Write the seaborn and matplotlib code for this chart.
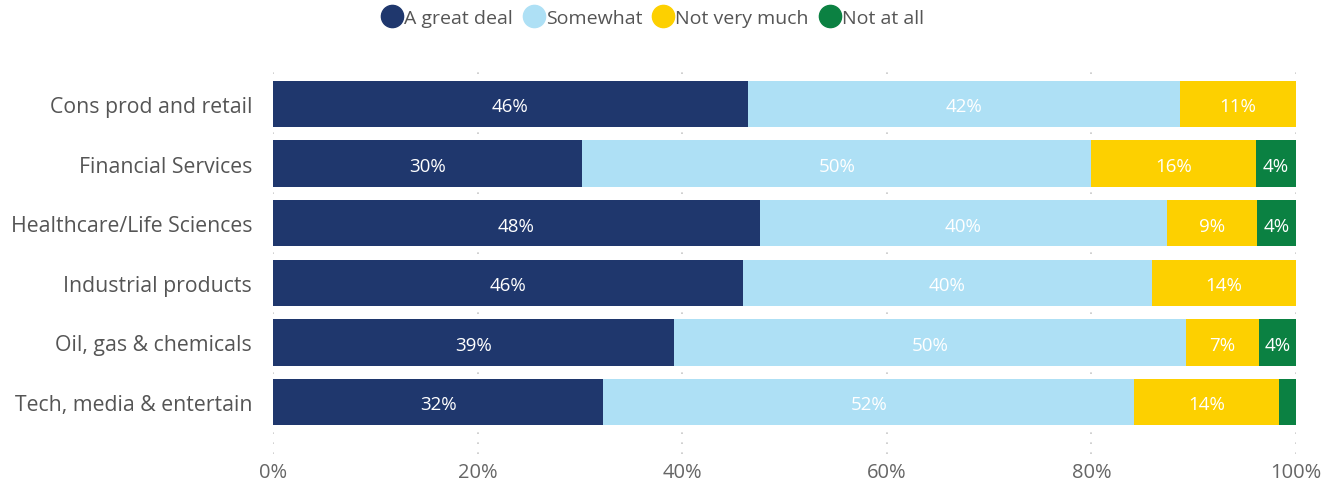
import matplotlib
matplotlib.use("Agg")
import matplotlib.pyplot as plt
from matplotlib.lines import Line2D
import seaborn as sns
import numpy as np
import pandas as pd

categories = ["Cons prod and retail", "Financial Services", "Healthcare/Life Sciences",
              "Industrial products", "Oil, gas & chemicals", "Tech, media & entertain"]
series = ["A great deal", "Somewhat", "Not very much", "Not at all"]
great_deal = [46.4, 30.2, 47.6, 45.9, 39.2, 32.3]
somewhat = [42.3, 49.8, 39.8, 40.0, 50.0, 51.9]
not_very_much = [11.3, 16.1, 8.8, 14.1, 7.2, 14.1]
not_at_all = [0.0, 3.9, 3.8, 0.0, 3.6, 1.7]
colors = ["#1F376D", "#AEE0F5", "#FDD000", "#0B8142"]
x_ticks = [0, 20, 40, 60, 80, 100]
x_tick_labels = ["0%", "20%", "40%", "60%", "80%", "100%"]

sns.set_theme(style="white")
plt.rcParams["font.family"] = ["Open Sans", "DejaVu Sans"]

values = [great_deal, somewhat, not_very_much, not_at_all]
df = pd.DataFrame({"category": categories})
cum = np.zeros(len(categories))
for name, vals in zip(series, values):
    cum = cum + np.array(vals)
    df[name + "_end"] = cum.copy()

fig = plt.figure(figsize=(13.39, 4.85), dpi=100)
ax = fig.add_axes([0.2039, 0.0619, 0.764, 0.804])

# Draw cumulative totals from the outermost segment inward so each layer covers the next
for name, color in reversed(list(zip(series, colors))):
    sns.barplot(data=df, y="category", x=name + "_end", color=color, orient="h",
                width=0.78, saturation=1, linewidth=0, edgecolor="none", ax=ax, zorder=2)

# Segment labels centred on each piece
start = np.zeros(len(categories))
for name, vals in zip(series, values):
    for i, v in enumerate(vals):
        if v >= 3:
            ax.text(start[i] + v / 2, i + 0.04, f"{round(v)}%", ha="center", va="center",
                    color="white", fontsize=13.5, zorder=3)
    start = start + np.array(vals)

ax.set_xlim(0, 100)
ax.set_ylim(5.87, -0.67)
ax.set_xticks(x_ticks)
ax.set_xticklabels(x_tick_labels)
ax.set_xlabel("")
ax.set_ylabel("")
ax.tick_params(axis="x", labelsize=14.5, colors="#666666", length=0, pad=6)
ax.tick_params(axis="y", labelsize=15.3, length=0, pad=15)
for lbl in ax.get_yticklabels():
    lbl.set_color("#555555")
ax.xaxis.grid(True, color="#C8C8C8", linestyle=(0, (1, 5)), linewidth=1.2, zorder=0)
ax.set_axisbelow(True)
for s in ax.spines.values():
    s.set_visible(False)

handles = [Line2D([0], [0], marker="o", color="none", markerfacecolor=c, markeredgecolor=c,
                  markersize=16) for c in colors]
fig.legend(handles, series, loc="upper center", bbox_to_anchor=(0.487, 1.015), ncol=4,
           frameon=False, fontsize=14, handletextpad=0.0, columnspacing=0.5,
           handlelength=1.2, labelcolor="#555555")

fig.savefig("out.png", dpi=100)
